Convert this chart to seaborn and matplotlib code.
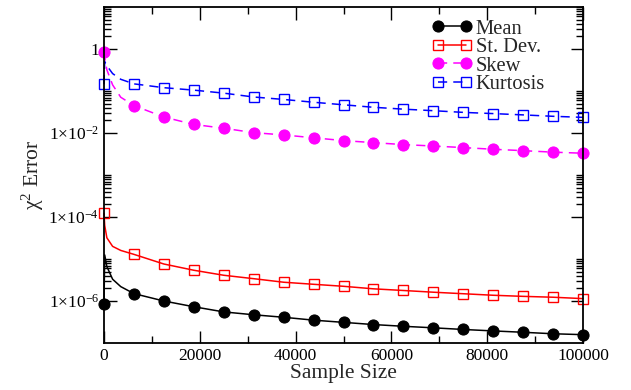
import matplotlib
matplotlib.use("Agg")
import matplotlib.pyplot as plt
import matplotlib.ticker as mticker
import seaborn as sns
import pandas as pd
import numpy as np

# ---- data ----
sample_size = [0, 150, 600, 1800, 3500, 6250, 12500, 18750, 25000, 31250, 37500,
               43750, 50000, 56250, 62500, 68750, 75000, 81250, 87500, 93750, 100000]
mean_err = [8.5e-7, 1.25e-5, 6.6e-6, 3.3e-6, 2.2e-6, 1.5e-6, 1.0e-6, 7.3e-7, 5.5e-7,
            4.7e-7, 4.1e-7, 3.5e-7, 3.1e-7, 2.75e-7, 2.5e-7, 2.3e-7, 2.1e-7, 1.94e-7,
            1.8e-7, 1.66e-7, 1.58e-7]
std_err = [1.23e-4, 6.3e-5, 3.2e-5, 2.0e-5, 1.6e-5, 1.29e-5, 7.6e-6, 5.4e-6, 4.1e-6,
           3.4e-6, 2.8e-6, 2.5e-6, 2.24e-6, 1.95e-6, 1.78e-6, 1.62e-6, 1.49e-6, 1.37e-6,
           1.29e-6, 1.23e-6, 1.14e-6]
skew_err = [0.87, 0.63, 0.32, 0.14, 0.071, 0.045, 0.024, 0.016, 0.013, 0.0102, 0.0090,
            0.0077, 0.0066, 0.0059, 0.0053, 0.0049, 0.0045, 0.0041, 0.0038, 0.0035, 0.0033]
kurt_err = [0.145, 0.50, 0.40, 0.26, 0.19, 0.148, 0.12, 0.105, 0.089, 0.072, 0.063,
            0.054, 0.047, 0.041, 0.037, 0.034, 0.031, 0.029, 0.027, 0.025, 0.0236]
series_names = ["Mean", "St. Dev.", "Skew", "Kurtosis"]
ytick_vals = [1, 1e-2, 1e-4, 1e-6]
ytick_labels = ["1", "1×10$^{-2}$", "1×10$^{-4}$", "1×10$^{-6}$"]

df = pd.DataFrame({"Sample Size": sample_size, "Mean": mean_err, "St. Dev.": std_err,
                   "Skew": skew_err, "Kurtosis": kurt_err})

sns.set_theme(style="ticks")
plt.rcParams["font.family"] = ["Liberation Serif", "DejaVu Serif"]
plt.rcParams["mathtext.fontset"] = "custom"
plt.rcParams["mathtext.rm"] = "Liberation Serif"
plt.rcParams["mathtext.it"] = "Liberation Serif:italic"

fig = plt.figure(figsize=(6.31, 3.90), dpi=100)
ax = fig.add_axes([0.1648, 0.1205, 0.7592, 0.8615])

mark_idx = [0] + list(range(5, len(sample_size)))
styles = {
    "Mean": dict(color="black", linestyle="-", marker="o", markersize=8,
                 markerfacecolor="black", markeredgecolor="black"),
    "St. Dev.": dict(color="red", linestyle="-", marker="s", markersize=7,
                     markerfacecolor="none", markeredgecolor="red", markeredgewidth=1.0),
    "Skew": dict(color="magenta", linestyle=(0, (6, 4)), marker="o", markersize=8,
                 markerfacecolor="magenta", markeredgecolor="magenta"),
    "Kurtosis": dict(color="blue", linestyle=(0, (6, 4)), marker="s", markersize=7,
                     markerfacecolor="none", markeredgecolor="blue", markeredgewidth=1.0),
}
for name in series_names:
    st = styles[name]
    sns.lineplot(data=df, x="Sample Size", y=name, ax=ax, label=name, linewidth=1.1,
                 markevery=mark_idx, clip_on=False, **st)

ax.set_yscale("log")
ax.set_xlim(0, 100000)
ax.set_ylim(1e-7, 10)

ax.xaxis.set_major_locator(mticker.MultipleLocator(20000))
ax.xaxis.set_minor_locator(mticker.MultipleLocator(10000))
ax.yaxis.set_major_locator(mticker.FixedLocator(ytick_vals))
ax.yaxis.set_major_formatter(mticker.FixedFormatter(ytick_labels))
# minor ticks only in the decade above each labelled major tick (xmgrace style)
minor_pos = [k * v for v in ytick_vals for k in range(2, 11)]
ax.yaxis.set_minor_locator(mticker.FixedLocator(minor_pos))
ax.yaxis.set_minor_formatter(mticker.NullFormatter())

ax.tick_params(which="both", direction="in", top=True, right=True, labelsize=12.5,
               width=1.0, colors="black")
ax.tick_params(which="major", length=9)
ax.tick_params(which="minor", length=5)
for s in ax.spines.values():
    s.set_linewidth(1.3)
    s.set_color("black")

ax.set_xlabel("Sample Size", fontsize=15.5, labelpad=0)
ax.set_ylabel("χ$^{2}$ Error", fontsize=15.5, labelpad=2)

leg = ax.legend(loc="upper right", bbox_to_anchor=(0.921, 0.964), frameon=False,
                fontsize=14.8, numpoints=2, handlelength=1.96, handletextpad=0.2,
                labelspacing=-0.04, borderaxespad=0.0, borderpad=0.0)

fig.savefig("out.png", dpi=100)
